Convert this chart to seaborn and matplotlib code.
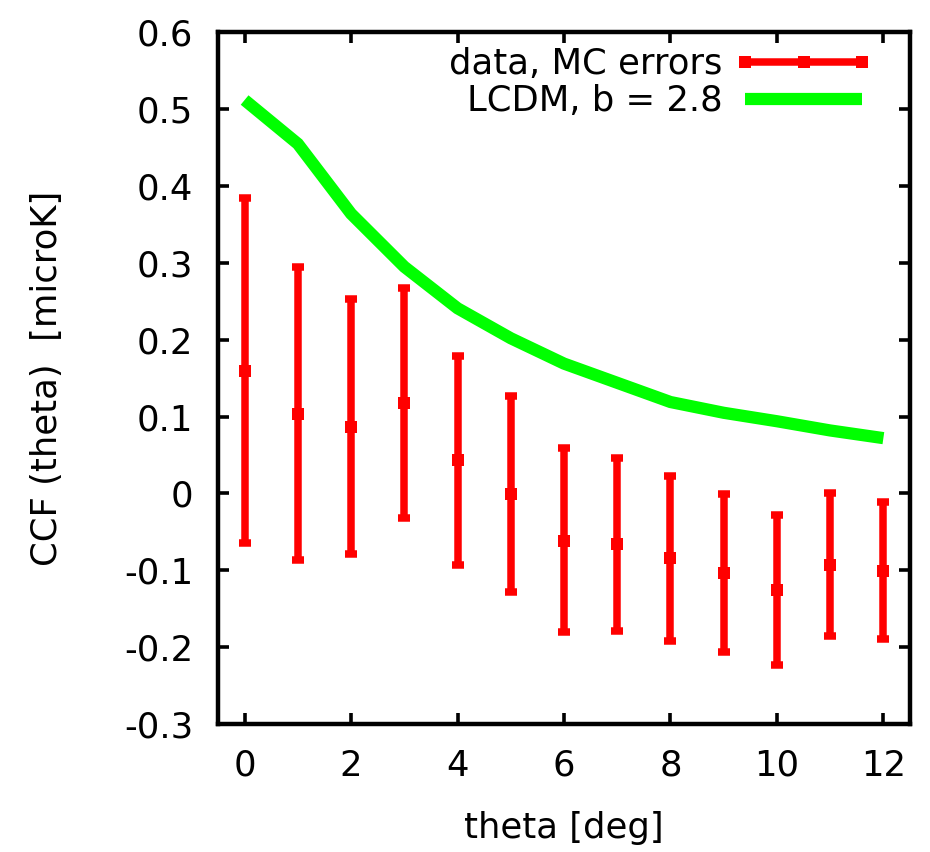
import numpy as np
import pandas as pd
import matplotlib
matplotlib.use("Agg")
import matplotlib.pyplot as plt
from matplotlib.lines import Line2D
from matplotlib.legend_handler import HandlerLine2D
import seaborn as sns

# ---- data ----
theta = [0, 1, 2, 3, 4, 5, 6, 7, 8, 9, 10, 11, 12]
ccf = [0.160, 0.104, 0.087, 0.118, 0.043, -0.001, -0.062, -0.066, -0.084, -0.103, -0.125, -0.093, -0.101]
ccf_hi = [0.384, 0.295, 0.253, 0.268, 0.179, 0.127, 0.059, 0.046, 0.023, -0.001, -0.028, 0.000, -0.011]
ccf_lo = [-0.064, -0.086, -0.079, -0.032, -0.093, -0.128, -0.180, -0.179, -0.192, -0.206, -0.223, -0.186, -0.190]
lcdm = [0.512, 0.455, 0.364, 0.295, 0.241, 0.202, 0.169, 0.144, 0.119, 0.105, 0.094, 0.082, 0.072]

xticks = [0, 2, 4, 6, 8, 10, 12]
yticks = [0.6, 0.5, 0.4, 0.3, 0.2, 0.1, 0.0, -0.1, -0.2, -0.3]
ytick_labels = ["0.6", "0.5", "0.4", "0.3", "0.2", "0.1", "0", "-0.1", "-0.2", "-0.3"]
label_data = "data, MC errors"
label_model = "LCDM, b = 2.8"
xlabel = "theta [deg]"
ylabel = "CCF (theta)  [microK]"

sns.set_theme(style="ticks")
plt.rcParams["font.family"] = ["DejaVu Sans"]
plt.rcParams["axes.unicode_minus"] = False
plt.rcParams["text.color"] = "black"
plt.rcParams["axes.labelcolor"] = "black"

FS = 25.5
RED = "#ff0000"
GREEN = "#00ff00"

fig = plt.figure(figsize=(9.3, 8.52), dpi=100)
fig.patch.set_facecolor("white")
ax = fig.add_axes([218 / 930, 1 - 724 / 852, (910 - 218) / 930, (724 - 32.4) / 852])
ax.set_facecolor("white")

df = pd.DataFrame({"theta": theta, "ccf": ccf, "hi": ccf_hi, "lo": ccf_lo, "lcdm": lcdm})

# model curve
sns.lineplot(data=df, x="theta", y="lcdm", color=GREEN, lw=8.8, ax=ax,
             solid_capstyle="butt", solid_joinstyle="miter", zorder=2)

# data with errors
yerr = np.vstack([df["ccf"] - df["lo"], df["hi"] - df["ccf"]])
ax.errorbar(df["theta"], df["ccf"], yerr=yerr, fmt="none", ecolor=RED,
            elinewidth=5.4, capsize=4.1, capthick=5.4, zorder=3)
sns.scatterplot(data=df, x="theta", y="ccf", color=RED, marker="s", s=64,
                edgecolor=RED, linewidth=0, ax=ax, zorder=4)

ax.set_xlim(-0.5, 12.5)
ax.set_ylim(-0.3, 0.6)
ax.set_xticks(xticks)
ax.set_xticklabels([str(t) for t in xticks])
ax.set_yticks(yticks)
ax.set_yticklabels(ytick_labels)

for s in ax.spines.values():
    s.set_visible(True)
    s.set_linewidth(3.2)
    s.set_color("black")

ax.tick_params(axis="both", which="major", direction="in", length=8, width=2.6,
               color="black", labelsize=FS, pad=18, top=True, right=True,
               labelcolor="black")

ax.set_xlabel(xlabel, fontsize=FS, labelpad=20, color="black")
ax.set_ylabel(ylabel, fontsize=FS, labelpad=43, color="black")

# legend
h_data = Line2D([], [], color=RED, lw=5.4, marker="s", ms=8,
                markeredgewidth=0, solid_capstyle="butt")
h_model = Line2D([], [], color=GREEN, lw=8.8, solid_capstyle="butt")
leg = ax.legend([h_data, h_model], [label_data, label_model],
                loc="upper right", bbox_to_anchor=(0.9306, 0.979),
                frameon=False, fontsize=FS, markerfirst=False,
                numpoints=3, handlelength=3.3, handletextpad=0.63,
                borderpad=0, borderaxespad=0, labelspacing=0.1,
                handler_map={Line2D: HandlerLine2D(marker_pad=0)})
for t in leg.get_texts():
    t.set_color("black")

fig.savefig("out.png", dpi=100, facecolor="white")
